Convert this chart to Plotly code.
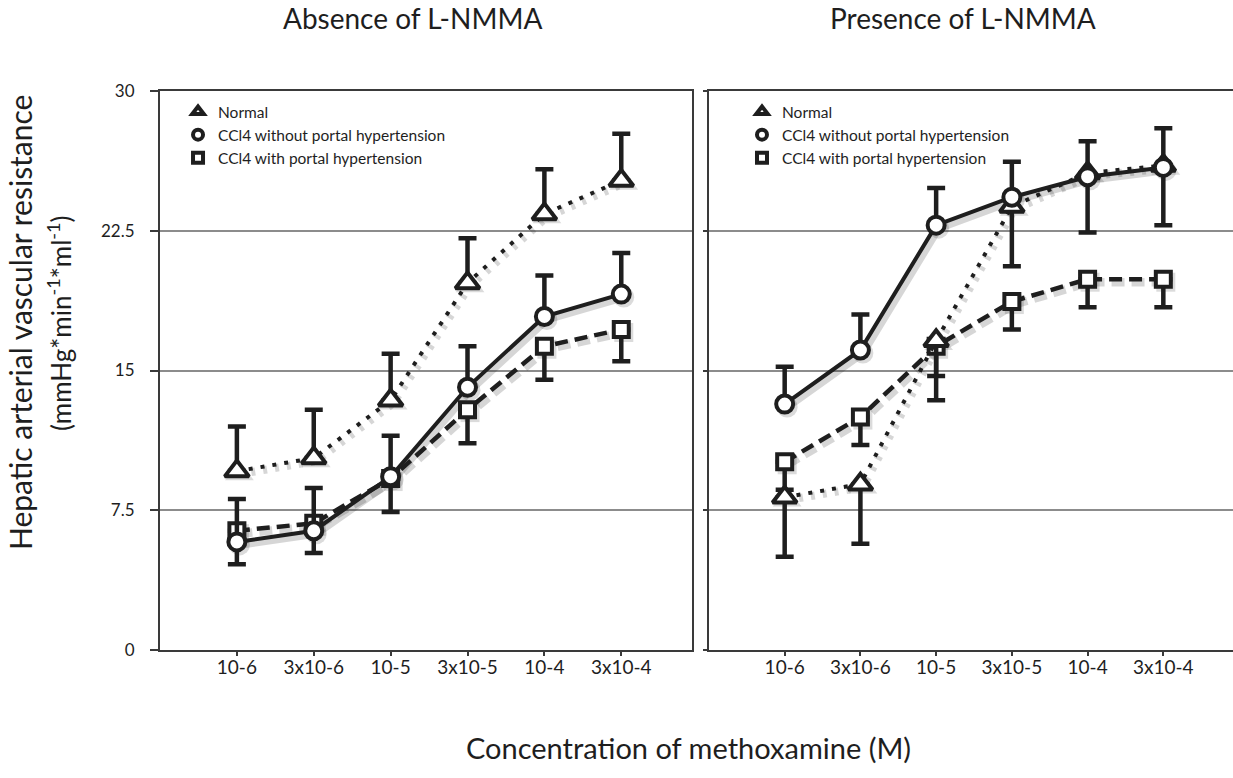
import plotly.graph_objects as go

# ---------------- data ----------------
conc_labels = ["10-6", "3x10-6", "10-5", "3x10-5", "10-4", "3x10-4"]
series_names = ["Normal", "CCl4 without portal hypertension", "CCl4 with portal hypertension"]

# Absence of L-NMMA
abs_normal = [9.6, 10.3, 13.4, 19.7, 23.4, 25.2]
abs_normal_err_up = [2.4, 2.6, 2.5, 2.4, 2.4, 2.5]
abs_nopht = [5.8, 6.4, 9.3, 14.1, 17.9, 19.1]
abs_nopht_err_up = [2.3, 2.3, 2.2, 2.2, 2.2, 2.2]
abs_pht = [6.4, 6.8, 9.2, 12.9, 16.3, 17.2]
abs_pht_err_down = [1.8, 1.6, 1.8, 1.8, 1.8, 1.7]

# Presence of L-NMMA
pre_normal = [8.2, 8.9, 16.6, 23.8, 25.6, 26.0]
pre_normal_err_down = [3.2, 3.2, 3.2, 3.2, 3.2, 3.2]
pre_nopht = [13.2, 16.1, 22.8, 24.3, 25.4, 25.9]
pre_nopht_err_up = [2.0, 1.9, 2.0, 1.9, 1.9, 2.1]
pre_pht = [10.1, 12.5, 16.3, 18.7, 19.9, 19.9]
pre_pht_err_down = [1.5, 1.5, 1.6, 1.5, 1.5, 1.5]

y_ticks = [0, 7.5, 15, 22.5, 30]
y_tick_text = ["0", "7.5", "15", "22.5", "30"]

# ---------------- styling ----------------
FONT = "Lato"
INK = "#1e1e1e"
xpos = list(range(len(conc_labels)))

styles = {
    "Normal": dict(dash="4px,8px", width=4, symbol="triangle-up", size=21),
    "CCl4 without portal hypertension": dict(dash="solid", width=4, symbol="circle", size=17),
    "CCl4 with portal hypertension": dict(dash="13px,7px", width=4.5, symbol="square", size=15),
}

# soft drop shadow offset (pixel offset converted to axis units)
SHADOW_DX = 2.5 / 76.0
SHADOW_DY = -3.0 / 18.63

fig = go.Figure()


def add_shadow(name, y, xa, ya):
    st = styles[name]
    fig.add_trace(go.Scatter(
        x=[v + SHADOW_DX for v in xpos], y=[v + SHADOW_DY for v in y],
        xaxis=xa, yaxis=ya, mode="lines+markers", showlegend=False, hoverinfo="skip",
        line=dict(color="rgba(0,0,0,0.16)", width=st["width"] + 4, dash=st["dash"]),
        marker=dict(symbol=st["symbol"], size=st["size"] + 4, color="rgba(0,0,0,0.14)",
                    line=dict(width=0)),
    ))


def add_series(name, y, up, down, xa, ya):
    st = styles[name]
    zeros = [0] * len(y)
    fig.add_trace(go.Scatter(
        x=xpos, y=y, xaxis=xa, yaxis=ya, mode="lines+markers", name=name,
        showlegend=False,
        line=dict(color=INK, width=st["width"], dash=st["dash"]),
        marker=dict(symbol=st["symbol"], size=st["size"], color="white",
                    line=dict(color=INK, width=4)),
        error_y=dict(type="data", symmetric=False,
                     array=up if up is not None else zeros,
                     arrayminus=down if down is not None else zeros,
                     color=INK, thickness=4.5, width=9),
    ))


left = [("Normal", abs_normal, abs_normal_err_up, None),
        ("CCl4 with portal hypertension", abs_pht, None, abs_pht_err_down),
        ("CCl4 without portal hypertension", abs_nopht, abs_nopht_err_up, None)]
right = [("CCl4 with portal hypertension", pre_pht, None, pre_pht_err_down),
         ("Normal", pre_normal, None, pre_normal_err_down),
         ("CCl4 without portal hypertension", pre_nopht, pre_nopht_err_up, None)]

for panel, xa, ya in [(left, "x", "y"), (right, "x2", "y2")]:
    for name, y, up, down in panel:
        add_shadow(name, y, xa, ya)
    for name, y, up, down in panel:
        add_series(name, y, up, down, xa, ya)

# legend entries (marker only)
for lg, xa, ya in [("legend", "x", "y"), ("legend2", "x2", "y2")]:
    for name in series_names:
        st = styles[name]
        fig.add_trace(go.Scatter(
            x=[None], y=[None], xaxis=xa, yaxis=ya, mode="markers", name=name,
            legend=lg, showlegend=True,
            marker=dict(symbol=st["symbol"], size=10, color="white",
                        line=dict(color=INK, width=4)),
        ))

axis_line = dict(showline=True, linecolor="#3a3a3a", linewidth=2, zeroline=False)

xcommon = dict(range=[-1, 5.92], tickmode="array", tickvals=xpos, ticktext=conc_labels,
               ticks="outside", ticklen=4, tickwidth=1.5, tickcolor="#3a3a3a",
               showgrid=False, tickfont=dict(family=FONT, size=19, color=INK),
               ticklabelstandoff=-5, mirror=True, **axis_line)
ycommon = dict(range=[0, 30], tickmode="array", tickvals=y_ticks, ticktext=y_tick_text,
               showgrid=True, gridcolor="#8c8c8c", gridwidth=1.5,
               tickcolor="#3a3a3a", tickwidth=1.5, **axis_line)

legend_common = dict(xanchor="left", yanchor="top", bgcolor="rgba(0,0,0,0)",
                     font=dict(family=FONT, size=15.5, color=INK),
                     tracegroupgap=0, itemsizing="trace")

fig.update_layout(
    width=1233, height=778,
    margin=dict(l=160, r=0, t=91, b=128),
    paper_bgcolor="white", plot_bgcolor="white",
    font=dict(family=FONT, color=INK),
    xaxis=dict(domain=[0, 0.4958], anchor="y", **xcommon),
    yaxis=dict(domain=[0, 1], anchor="x", ticks="outside", ticklen=8,
               ticklabelstandoff=12, tickfont=dict(family=FONT, size=17, color=INK),
               mirror=True, **ycommon),
    xaxis2=dict(domain=[0.5116, 1], anchor="y2", **xcommon),
    yaxis2=dict(domain=[0, 1], anchor="x2", ticks="outside", ticklen=4,
                showticklabels=False, mirror=False, **ycommon),
    legend=dict(x=0.0168, y=0.993, **legend_common),
    legend2=dict(x=0.5424, y=0.993, **legend_common),
    annotations=[
        dict(text="Absence of L-NMMA", x=(412 - 160) / 1073, y=1.13, xref="paper", yref="paper",
             showarrow=False, font=dict(family=FONT, size=28, color=INK), xanchor="center", yanchor="middle"),
        dict(text="Presence of L-NMMA", x=(963 - 160) / 1073, y=1.13, xref="paper", yref="paper",
             showarrow=False, font=dict(family=FONT, size=28, color=INK), xanchor="center", yanchor="middle"),
        dict(text="Concentration of methoxamine (M)", x=(688 - 160) / 1073, y=-0.175,
             xref="paper", yref="paper", showarrow=False,
             font=dict(family=FONT, size=29, color=INK), xanchor="center", yanchor="middle"),
        dict(text="Hepatic arterial vascular resistance", x=(20 - 160) / 1073, y=0.585,
             xref="paper", yref="paper", showarrow=False, textangle=-90,
             font=dict(family=FONT, size=30, color=INK), xanchor="center", yanchor="middle"),
        dict(text="(mmHg*min<sup>-1</sup>*ml<sup>-1</sup>)", x=(60 - 160) / 1073, y=0.585,
             xref="paper", yref="paper", showarrow=False, textangle=-90,
             font=dict(family=FONT, size=26, color=INK), xanchor="center", yanchor="middle"),
    ],
)

fig.write_html("out.html")
